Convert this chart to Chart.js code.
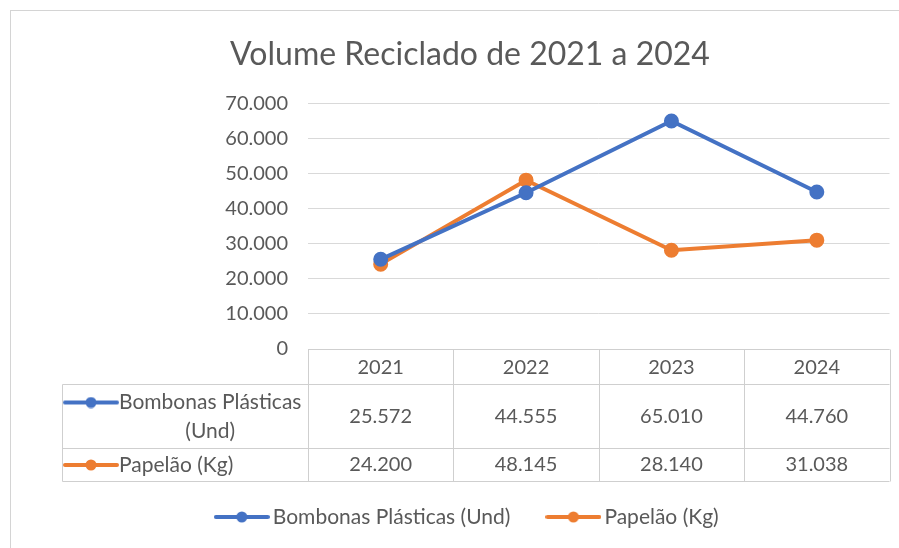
<!DOCTYPE html>
<html>
<head>
<meta charset="utf-8">
<title>Volume Reciclado de 2021 a 2024</title>
<script src="https://cdn.jsdelivr.net/npm/chart.js"></script>
<style>
    body { margin: 0; background: #fff; }
</style>
</head>
<body>
<canvas id="grafico" width="899" height="548"></canvas>

<script>
    // Dados do gráfico
    var anos = ["2021", "2022", "2023", "2024"];
    var bombonas = [25572, 44555, 65010, 44760];
    var papelao = [24200, 48145, 28140, 31038];
    var ticksY = [0, 10000, 20000, 30000, 40000, 50000, 60000, 70000];
    var nomesSeries = ["Bombonas Plásticas (Und)", "Papelão (Kg)"];
    var coresSeries = ["#4472C4", "#ED7D31"];

    var corTexto = "#595959";
    var fonte = "Lato";

    // 25572 -> "25.572"
    function formatar(v) {
        return String(v).replace(/\B(?=(\d{3})+(?!\d))/g, ".");
    }

    // ícone de legenda: linha com bolinha no meio
    function icone(cor) {
        var c = document.createElement("canvas");
        c.width = 56; c.height = 12;
        var g = c.getContext("2d");
        g.strokeStyle = cor; g.lineWidth = 4; g.lineCap = "round";
        g.beginPath(); g.moveTo(2, 6); g.lineTo(54, 6); g.stroke();
        g.fillStyle = cor;
        g.beginPath(); g.arc(28, 6, 5.5, 0, Math.PI * 2); g.fill();
        return c;
    }
    var icones = coresSeries.map(icone);

    // moldura cinza do gráfico
    var moldura = {
        id: "moldura",
        beforeDraw: function(chart) {
            var ctx = chart.ctx;
            ctx.save();
            ctx.fillStyle = "#fff";
            ctx.fillRect(0, 0, chart.width, chart.height);
            ctx.strokeStyle = "#d4d4d4";
            ctx.lineWidth = 1;
            ctx.strokeRect(10.5, 10.5, chart.width + 20, chart.height + 20);
            ctx.restore();
        }
    };

    // tabela de dados abaixo do eixo x
    var tabela = {
        id: "tabela",
        afterDraw: function(chart) {
            var ctx = chart.ctx;
            var eixoX = chart.scales.x;
            var area = chart.chartArea;
            var larg = (area.right - area.left) / anos.length;
            var y0 = Math.round(area.bottom) + 0.5;
            var y1 = y0 + 35, y2 = y1 + 64, y3 = y2 + 33;
            var esq = 62.5;

            ctx.save();
            ctx.strokeStyle = "#cfcfcf";
            ctx.lineWidth = 1;
            ctx.beginPath();
            ctx.moveTo(area.left, y0); ctx.lineTo(area.right, y0);
            ctx.moveTo(esq, y1); ctx.lineTo(area.right, y1);
            ctx.moveTo(esq, y2); ctx.lineTo(area.right, y2);
            ctx.moveTo(esq, y3); ctx.lineTo(area.right, y3);
            ctx.moveTo(esq, y1); ctx.lineTo(esq, y3);
            for (var i = 0; i <= anos.length; i++) {
                var xc = Math.round(area.left + i * larg) + 0.5;
                ctx.moveTo(xc, y0); ctx.lineTo(xc, y3);
            }
            ctx.stroke();

            ctx.fillStyle = corTexto;
            ctx.font = "20px " + fonte;
            ctx.textAlign = "center";
            ctx.textBaseline = "middle";
            var linhas = [bombonas, papelao];
            anos.forEach(function(ano, i) {
                var x = eixoX.getPixelForValue(i);
                ctx.fillText(ano, x, (y0 + y1) / 2 + 1);
                ctx.fillText(formatar(linhas[0][i]), x, (y1 + y2) / 2);
                ctx.fillText(formatar(linhas[1][i]), x, (y2 + y3) / 2);
            });

            // rótulos das séries
            ctx.drawImage(icones[0], 63, y1 + 12);
            ctx.drawImage(icones[1], 63, (y2 + y3) / 2 - 6);
            ctx.font = "21px " + fonte;
            ctx.textAlign = "left";
            var l1 = "Bombonas Plásticas";
            ctx.fillText(l1, 119, y1 + 18);
            var w1 = ctx.measureText(l1).width;
            ctx.textAlign = "center";
            ctx.fillText("(Und)", 119 + w1 / 2, y1 + 47);
            ctx.textAlign = "left";
            ctx.fillText("Papelão (Kg)", 119, (y2 + y3) / 2);
            ctx.restore();
        }
    };

    var ctx = document.getElementById("grafico").getContext("2d");

    var chart = new Chart(ctx, {
        type: "line",
        data: {
            labels: anos,
            datasets: [{
                label: nomesSeries[0],
                data: bombonas,
                borderColor: coresSeries[0],
                backgroundColor: coresSeries[0],
                borderWidth: 4,
                pointRadius: 5.5,
                pointHoverRadius: 5.5,
                tension: 0
            }, {
                label: nomesSeries[1],
                data: papelao,
                borderColor: coresSeries[1],
                backgroundColor: coresSeries[1],
                borderWidth: 4,
                pointRadius: 5.5,
                pointHoverRadius: 5.5,
                tension: 0
            }]
        },
        options: {
            responsive: false,
            animation: false,
            layout: { padding: { left: 48, right: 7, top: 10, bottom: 10.5 } },
            plugins: {
                title: {
                    display: true,
                    text: "Volume Reciclado de 2021 a 2024",
                    color: corTexto,
                    font: { family: fonte, size: 32, weight: "normal" },
                    padding: { top: 25.8, bottom: 29.3 }
                },
                legend: {
                    position: "bottom",
                    labels: {
                        color: corTexto,
                        font: { family: fonte, size: 21 },
                        usePointStyle: true,
                        pointStyleWidth: 41,
                        padding: 42.5,
                        generateLabels: function(chart) {
                            var itens = Chart.defaults.plugins.legend.labels.generateLabels(chart);
                            itens.forEach(function(it, i) { it.pointStyle = icones[i]; });
                            return itens;
                        }
                    }
                },
                tooltip: { enabled: false }
            },
            scales: {
                x: {
                    offset: true,
                    grid: { display: false },
                    border: { display: false },
                    ticks: { display: false },
                    afterFit: function(scale) { scale.height = 115; }
                },
                y: {
                    min: 0,
                    max: 70000,
                    afterBuildTicks: function(scale) {
                        scale.ticks = ticksY.map(function(v) { return { value: v }; });
                    },
                    grid: { color: "#d9d9d9", drawTicks: false },
                    border: { display: false },
                    ticks: {
                        color: corTexto,
                        font: { family: fonte, size: 20 },
                        padding: 20,
                        callback: function(v) { return formatar(v); }
                    },
                    afterFit: function(scale) { scale.width = 260; }
                }
            }
        },
        plugins: [moldura, tabela]
    });
</script>
</body>
</html>
